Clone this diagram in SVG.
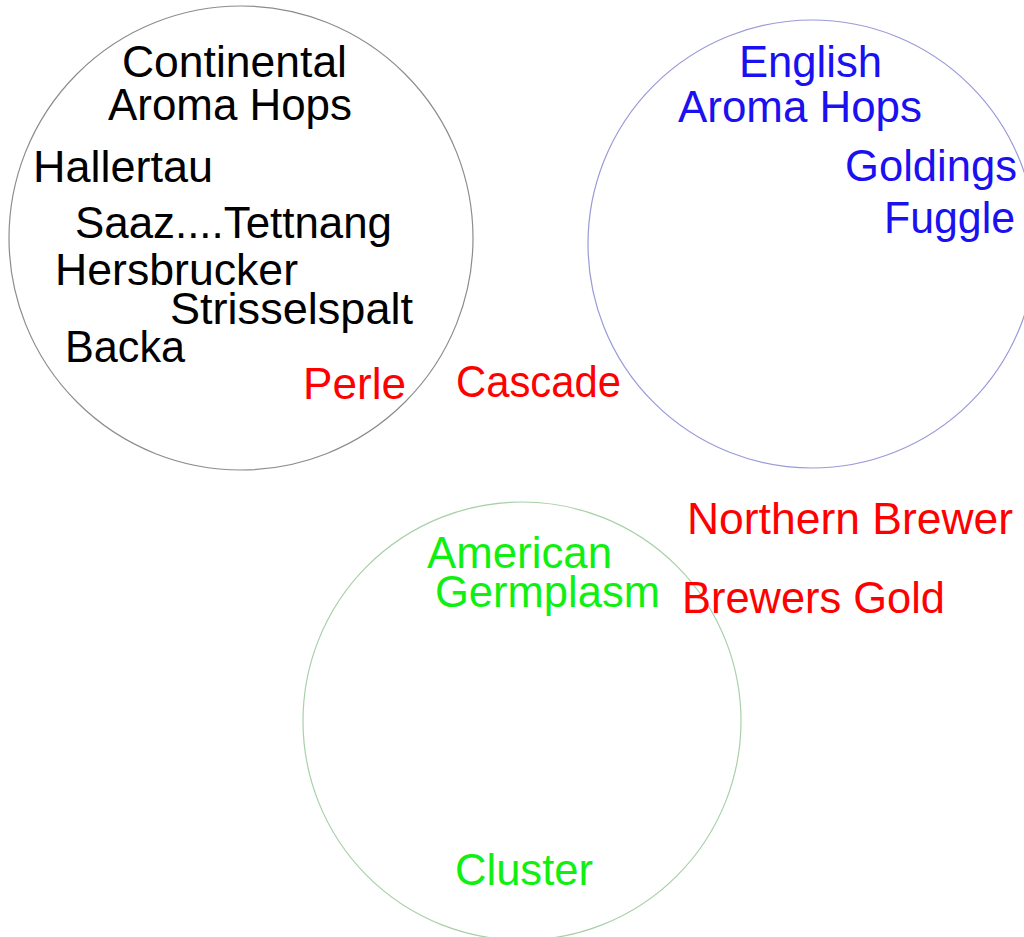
<svg xmlns="http://www.w3.org/2000/svg" width="1024" height="937" viewBox="0 0 1024 937">
  <style>
    text { font-family: "Liberation Sans", Arial, sans-serif; font-size: 44px; }
    .ring { fill: none; stroke-width: 1.2; }
    .black { fill: #000000; }
    .blue { fill: #1a10f0; }
    .red { fill: #ff0000; }
    .green { fill: #10f010; }
  </style>
  <rect width="1024" height="937" fill="#ffffff"/>

  <!-- Continental aroma hops -->
  <g id="continental">
    <circle class="ring" cx="241" cy="238" r="232" stroke="#8c8c8c"/>
    <text class="black" x="122" y="77" textLength="225" lengthAdjust="spacingAndGlyphs">Continental</text>
    <text class="black" x="108" y="120" textLength="244" lengthAdjust="spacingAndGlyphs">Aroma Hops</text>
    <text class="black" x="33" y="182" textLength="180" lengthAdjust="spacingAndGlyphs">Hallertau</text>
    <text class="black" x="75" y="238" textLength="317" lengthAdjust="spacingAndGlyphs">Saaz....Tettnang</text>
    <text class="black" x="55" y="285" textLength="243" lengthAdjust="spacingAndGlyphs">Hersbrucker</text>
    <text class="black" x="170" y="324" textLength="243" lengthAdjust="spacingAndGlyphs">Strisselspalt</text>
    <text class="black" x="65" y="362" textLength="120" lengthAdjust="spacingAndGlyphs">Backa</text>
  </g>

  <!-- English aroma hops -->
  <g id="english">
    <circle class="ring" cx="812" cy="244" r="224" stroke="#9a9ad8"/>
    <text class="blue" x="739" y="77" textLength="143" lengthAdjust="spacingAndGlyphs">English</text>
    <text class="blue" x="678" y="122" textLength="244" lengthAdjust="spacingAndGlyphs">Aroma Hops</text>
    <text class="blue" x="845" y="181" textLength="172" lengthAdjust="spacingAndGlyphs">Goldings</text>
    <text class="blue" x="884" y="233" textLength="131" lengthAdjust="spacingAndGlyphs">Fuggle</text>
  </g>

  <!-- American germplasm -->
  <g id="american">
    <circle class="ring" cx="522" cy="721" r="219" stroke="#a8d0a8"/>
    <text class="green" x="427" y="568" textLength="185" lengthAdjust="spacingAndGlyphs">American</text>
    <text class="green" x="435" y="607" textLength="225" lengthAdjust="spacingAndGlyphs">Germplasm</text>
    <text class="green" x="455" y="885" textLength="138" lengthAdjust="spacingAndGlyphs">Cluster</text>
  </g>

  <!-- Varieties between groups -->
  <g id="crosses">
    <text class="red" x="303" y="399" textLength="103" lengthAdjust="spacingAndGlyphs">Perle</text>
    <text class="red" x="456" y="397" textLength="165" lengthAdjust="spacingAndGlyphs">Cascade</text>
    <text class="red" x="687" y="534" textLength="326" lengthAdjust="spacingAndGlyphs">Northern Brewer</text>
    <text class="red" x="682" y="613" textLength="263" lengthAdjust="spacingAndGlyphs">Brewers Gold</text>
  </g>

  <g id="connectors"/>
</svg>
